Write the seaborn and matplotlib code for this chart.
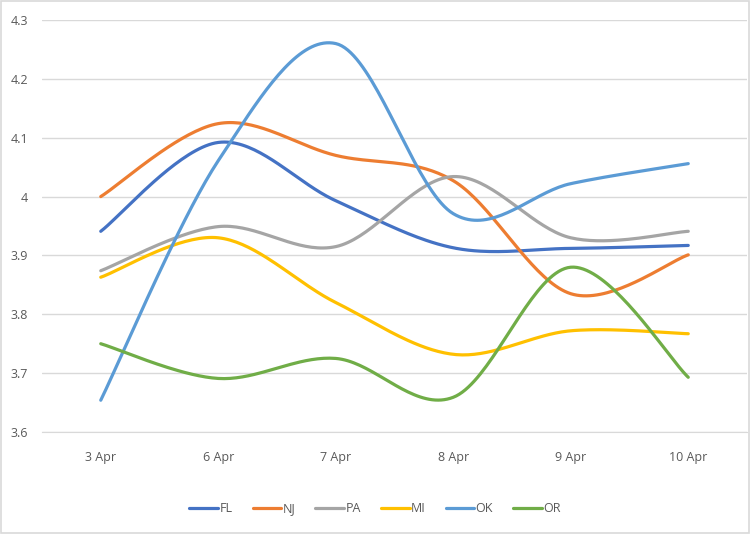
import numpy as np
import pandas as pd
import seaborn as sns
import matplotlib.pyplot as plt
from matplotlib.lines import Line2D

days = ['3 Apr', '6 Apr', '7 Apr', '8 Apr', '9 Apr', '10 Apr']
states = ['FL', 'NJ', 'PA', 'MI', 'OK', 'OR']
fl = [3.941, 4.092, 3.993, 3.913, 3.912, 3.917]
nj = [4.000, 4.124, 4.070, 4.027, 3.835, 3.901]
pa = [3.874, 3.949, 3.915, 4.034, 3.930, 3.941]
mi = [3.863, 3.930, 3.820, 3.732, 3.772, 3.767]
ok = [3.654, 4.061, 4.260, 3.971, 4.022, 4.056]
orr = [3.750, 3.691, 3.725, 3.659, 3.880, 3.693]
colors = ['#4472C4', '#ED7D31', '#A5A5A5', '#FFC000', '#5B9BD5', '#70AD47']


def smooth(xs, ys, n=40):
    # excel-like smoothed line: catmull-rom bezier through the points
    pts = np.column_stack([xs, ys]).astype(float)
    ext = np.vstack([pts[0], pts, pts[-1]])
    out = []
    for i in range(len(pts) - 1):
        p0, p1, p2, p3 = ext[i], ext[i + 1], ext[i + 2], ext[i + 3]
        c1 = p1 + (p2 - p0) / 6
        c2 = p2 - (p3 - p1) / 6
        t = np.linspace(0, 1, n)[:, None]
        seg = (1 - t) ** 3 * p1 + 3 * (1 - t) ** 2 * t * c1 + 3 * (1 - t) * t ** 2 * c2 + t ** 3 * p2
        out.append(seg if i == 0 else seg[1:])
    return np.vstack(out)


rows = []
for name, vals in zip(states, [fl, nj, pa, mi, ok, orr]):
    curve = smooth(np.arange(len(days)), vals)
    for k, (x, y) in enumerate(curve):
        rows.append((name, k, x, y))
df = pd.DataFrame(rows, columns=['state', 'order', 'x', 'y'])

sns.set_style('white')
plt.rcParams['font.family'] = ['Open Sans', 'DejaVu Sans']

fig = plt.figure(figsize=(7.5, 5.34), dpi=100)
ax = fig.add_axes([0.056, 0.191, 0.94, 0.7715])

sns.lineplot(data=df, x='x', y='y', hue='state', hue_order=states, palette=colors,
             sort=False, estimator=None, units='state', linewidth=2.3,
             legend=False, ax=ax, solid_capstyle='round')

ax.set_xlim(-0.5, len(days) - 0.5)
ax.set_ylim(3.6, 4.3)
ax.set_yticks([3.6, 3.7, 3.8, 3.9, 4.0, 4.1, 4.2, 4.3])
ax.set_yticklabels(['3.6', '3.7', '3.8', '3.9', '4', '4.1', '4.2', '4.3'])
ax.set_xticks(range(len(days)))
ax.set_xticklabels(days)
ax.set_xlabel('')
ax.set_ylabel('')
ax.grid(axis='y', color='#D9D9D9', linewidth=1)
ax.set_axisbelow(True)
for s in ['top', 'right', 'left']:
    ax.spines[s].set_visible(False)
ax.spines['bottom'].set_color('#D9D9D9')
ax.tick_params(axis='both', length=0, labelsize=9, colors='#595959')
ax.tick_params(axis='x', pad=14)
ax.tick_params(axis='y', pad=10)

handles = [Line2D([0], [0], color=c, lw=2.3, solid_capstyle='round') for c in colors]
fig.legend(handles, states, loc='center', bbox_to_anchor=(0.5, 0.047), ncol=6,
           frameon=False, fontsize=9, handlelength=2.3, handletextpad=0.1,
           columnspacing=1.6, labelcolor='#595959')

fig.patches.append(plt.Rectangle((0.001, 0.001), 0.997, 0.997, transform=fig.transFigure,
                                 fill=False, edgecolor='#D9D9D9', linewidth=1.2))
fig.savefig('out.png', dpi=100)
